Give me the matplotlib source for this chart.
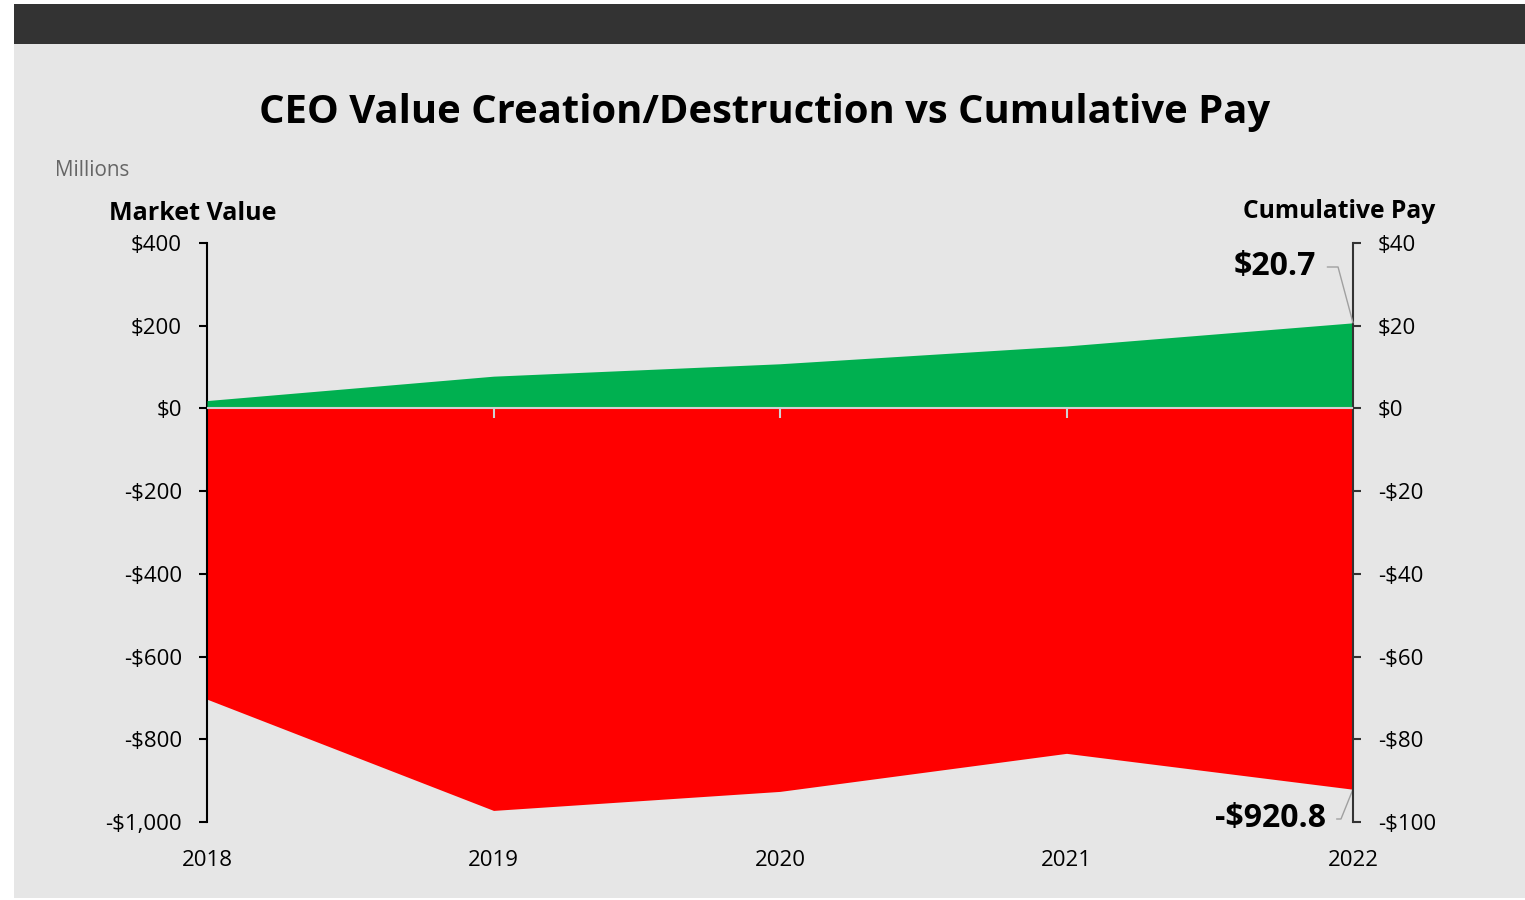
import numpy as np
import matplotlib.pyplot as plt
from matplotlib.patches import Rectangle

plt.rcParams['font.family'] = ['Open Sans', 'DejaVu Sans']

# data (millions)
years = [2018, 2019, 2020, 2021, 2022]
market_value = [-703, -972, -926, -834, -920.8]
cum_pay = [1.9, 7.8, 10.8, 15.1, 20.7]

W, H = 1525, 900
fig = plt.figure(figsize=(W/100, H/100), dpi=100, facecolor='white')

# panel background + dark header bar
fig.patches.append(Rectangle((14/W, 1-898/H), 1-14/W, (898-44)/H, transform=fig.transFigure,
                             facecolor='#e6e6e6', edgecolor='none', zorder=-10))
fig.patches.append(Rectangle((14/W, 1-44/H), 1-14/W, 40/H, transform=fig.transFigure,
                             facecolor='#333333', edgecolor='none', zorder=-10))

x0, x1 = 207/W, 1353/W
y_top, y_bot = 1-243/H, 1-822/H
ax = fig.add_axes([x0, y_bot, x1-x0, y_top-y_bot])
ax.patch.set_alpha(0)
ax2 = ax.twinx()
ax2.patch.set_alpha(0)

ax.fill_between(years, 0, market_value, color='#ff0000', lw=0, zorder=2)
ax2.fill_between(years, 0, cum_pay, color='#00b050', lw=0, zorder=2)
ax.set_zorder(1)
ax2.set_zorder(2)

ax.set_ylim(-1000, 400)
ax2.set_ylim(-100, 40)
ax.set_xlim(years[0], years[-1])

# zero line with small ticks
ax2.axhline(0, color='#d0d0d0', lw=1.5, zorder=3)
ax2.vlines(years[1:-1], -2.2, 0, color='#d0d0d0', lw=1.5, zorder=3)

ax.set_yticks(np.arange(-1000, 401, 200))
ax.set_yticklabels([f"${v:,}" if v >= 0 else f"-${-v:,}" for v in np.arange(-1000, 401, 200)])
ax2.set_yticks(np.arange(-100, 41, 20))
ax2.set_yticklabels([f"${v}" if v >= 0 else f"-${-v}" for v in np.arange(-100, 41, 20)])
ax.set_xticks(years)
ax.set_xticklabels([str(y) for y in years])

for a in (ax, ax2):
    for s in ['top', 'bottom']:
        a.spines[s].set_visible(False)
ax.spines['right'].set_visible(False)
ax2.spines['left'].set_visible(False)
ax.spines['left'].set_color('black')
ax.spines['left'].set_linewidth(1.5)
ax2.spines['right'].set_color('#333333')
ax2.spines['right'].set_linewidth(1.5)

ax.tick_params(axis='y', length=6, width=1.5, pad=12, labelsize=16, colors='black')
ax2.tick_params(axis='y', length=6, width=1.5, pad=12, labelsize=16, colors='#333333', labelcolor='black')
ax.tick_params(axis='x', length=0, pad=20, labelsize=16)

# value labels with leader lines
ax2.annotate(f"${cum_pay[-1]}", xy=(years[-1], cum_pay[-1]), xycoords='data',
             xytext=(1275/W, 1-267/H), textcoords='figure fraction',
             ha='center', va='center', fontsize=23, fontweight='bold',
             arrowprops=dict(arrowstyle='-', color='#a0a0a0', lw=1,
                             connectionstyle='angle,angleA=0,angleB=105,rad=0',
                             shrinkA=6, shrinkB=0), zorder=5)
ax.annotate(f"-${-market_value[-1]}", xy=(years[-1], market_value[-1]), xycoords='data',
            xytext=(1270/W, 1-819/H), textcoords='figure fraction',
            ha='center', va='center', fontsize=23, fontweight='bold',
            arrowprops=dict(arrowstyle='-', color='#a0a0a0', lw=1,
                            connectionstyle='angle,angleA=0,angleB=-112,rad=0',
                            shrinkA=6, shrinkB=0), zorder=5)

fig.text(765/W, 1-113/H, "CEO Value Creation/Destruction vs Cumulative Pay",
         ha='center', va='center', fontsize=28.8, fontweight='bold')
fig.text(55/W, 1-170/H, "Millions", ha='left', va='center', fontsize=14.9, color='#666666')
fig.text(109/W, 1-214/H, "Market Value", ha='left', va='center', fontsize=18, fontweight='bold')
fig.text(1435/W, 1-212/H, "Cumulative Pay", ha='right', va='center', fontsize=17.7, fontweight='bold')

fig.savefig("out.png", dpi=100, facecolor='white')
